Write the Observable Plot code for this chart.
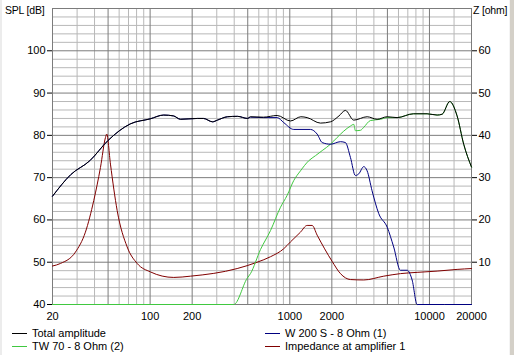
<!DOCTYPE html>
<html><head><meta charset="utf-8">
<script src="https://cdn.jsdelivr.net/npm/d3@7"></script>
<script src="https://cdn.jsdelivr.net/npm/@observablehq/plot@0.6"></script>
<style>
html,body{margin:0;padding:0;background:#fff;}
#wrap{position:relative;width:514px;height:355px;overflow:hidden;background:#fff;font-family:"Liberation Sans",Arial,sans-serif;font-size:11px;color:#000;}
#edgeL{position:absolute;left:0;top:0;width:2px;height:355px;background:#ececec;}
#edgeR{position:absolute;right:0;top:0;width:4px;height:355px;background:#d4d0c8;border-left:1px solid #f4f4f4;}
#chart{position:absolute;left:0;top:0;}
.lab{position:absolute;top:4px;white-space:nowrap;font-size:10.5px;letter-spacing:-0.2px;}
.leg{position:absolute;white-space:nowrap;line-height:13px;}
.sw{display:inline-block;width:15px;height:0;border-top:1px solid;vertical-align:middle;margin-right:5px;position:relative;top:-1px;}
</style></head>
<body><div id="wrap"><div id="chart"></div>
<div class="lab" style="left:5px;">SPL [dB]</div>
<div class="lab" style="left:473px;">Z [ohm]</div>
<div id="legend"></div>
<div id="edgeL"></div><div id="edgeR"></div></div>
<script>
// ---- data ----
const freqTicks = [20, 50, 100, 200, 500, 1000, 2000, 5000, 10000, 20000];
const freqMinor = [30, 40, 60, 70, 80, 90, 300, 400, 600, 700, 800, 900, 3000, 4000, 6000, 7000, 8000, 9000, 15000];
const splTicks = [40, 50, 60, 70, 80, 90, 100];
const ohmTicks = [10, 20, 30, 40, 50, 60];

const seriesNames = ["Total amplitude", "W 200 S - 8 Ohm (1)", "TW 70 - 8 Ohm (2)", "Impedance at amplifier 1"];
const seriesColors = ["#000000", "#000080", "#40c840", "#800000"];

const totalFreq = [20, 27, 37, 50, 72, 100, 125, 147, 165, 218, 241, 280, 303, 358, 422, 498, 523, 647, 812, 1011, 1200, 1331, 1657, 1955, 2250, 2501, 2870, 3580, 4220, 4978, 5866, 7674, 9620, 11350, 12330, 13970, 15770, 17590, 20000];
const totalSpl  = [65.6, 70.7, 74, 78.8, 82.7, 83.9, 84.8, 84.6, 83.8, 84, 84, 83.2, 83.6, 84.4, 84.5, 84, 84.4, 84.3, 84.7, 83.4, 84.4, 84.2, 82.9, 83.2, 84.6, 85.9, 83.6, 84.4, 83.8, 84.4, 84.2, 85.1, 85.1, 84.8, 85, 88, 84.6, 77.9, 72.5];

const wooferFreq = [20, 27, 37, 50, 72, 100, 125, 147, 165, 218, 241, 280, 303, 358, 422, 498, 523, 650, 812, 906, 1067, 1406, 1570, 1706, 1955, 2306, 2501, 2717, 2950, 3118, 3384, 3580, 3882, 4334, 4978, 5546, 6195, 6918, 7515, 8163, 20000];
const wooferSpl  = [65.6, 70.7, 74, 78.8, 82.7, 83.9, 84.8, 84.6, 83.8, 84, 84, 83.2, 83.6, 84.4, 84.5, 84, 84.3, 84.2, 84.2, 83, 81.4, 81.4, 80.3, 78.3, 77.9, 78.5, 78.3, 74.8, 70.5, 70.9, 72.6, 71.6, 66.9, 61.5, 58.3, 53.6, 48.1, 48.1, 45.8, 40, 40];

const tweeterFreq = [20, 397, 495, 523, 617, 728, 858, 957, 1067, 1192, 1367, 1528, 1706, 1955, 2183, 2434, 2717, 2870, 2950, 3208, 3384, 3778, 4456, 4978, 5866, 7674, 9620, 11350, 12330, 13970, 15770, 17590, 20000];
const tweeterSpl  = [40, 40, 46.2, 47.3, 53, 57.5, 63, 65.8, 69.3, 71.6, 74, 75.2, 76.4, 77.9, 79.5, 81, 82.2, 82.6, 81.1, 81.2, 81.9, 83.5, 83.8, 84.2, 84.2, 85.1, 85.1, 84.8, 85, 88, 84.6, 77.9, 72.5];

const impFreq = [20, 22.8, 29.2, 34.4, 39.5, 44.1, 47.9, 48.9, 52, 58.1, 68.5, 80.8, 100.6, 147.7, 194.5, 420, 584, 728, 906, 1011, 1192, 1331, 1445, 1570, 2010, 2306, 2717, 3384, 4710, 6195, 8163, 11350, 15770, 20000];
const impOhm  = [9.1, 9.7, 12.4, 17.1, 24.6, 32.4, 39.5, 40.3, 33.2, 22.2, 13.6, 9.7, 7.7, 6.4, 6.7, 8.5, 10, 11.3, 13.2, 14.8, 17.1, 18.7, 18.7, 16.4, 10.2, 7.3, 5.9, 5.8, 6.7, 7.3, 7.6, 7.9, 8.3, 8.5];

// ---- build tables ----
const zip = (f, v) => f.map((x, i) => ({f: x, v: v[i]}));
const total = zip(totalFreq, totalSpl);
const woofer = zip(wooferFreq, wooferSpl);
const tweeter = zip(tweeterFreq, tweeterSpl);
const imp = zip(impFreq, impOhm);
const ohmOffset = 40; // 0 ohm sits on the 40 dB line
const splMinor = d3.range(42, 110, 2).filter(v => v % 10 !== 0);
const splMajor = d3.range(50, 111, 10);

const chart = Plot.plot({
  width: 514, height: 325,
  marginLeft: 52, marginRight: 43, marginTop: 8, marginBottom: 21,
  style: {fontFamily: "'Liberation Sans', Arial, sans-serif", fontSize: "11px", color: "#000", background: "transparent"},
  x: {type: "log", domain: [20, 20000]},
  y: {domain: [40, 110]},
  marks: [
    Plot.ruleY(splMinor, {stroke: "#b8b8b8", strokeWidth: 1}),
    Plot.ruleX(freqMinor, {stroke: "#b8b8b8", strokeWidth: 1}),
    Plot.ruleY(splMajor, {stroke: "#7c7c7c", strokeWidth: 1}),
    Plot.ruleX(freqTicks, {stroke: "#7c7c7c", strokeWidth: 1}),
    Plot.frame({stroke: "#7c7c7c"}),
    Plot.line(imp, {x: "f", y: d => d.v + ohmOffset, stroke: seriesColors[3], strokeWidth: 1, curve: "monotone-x"}),
    Plot.line(tweeter, {x: "f", y: "v", stroke: seriesColors[2], strokeWidth: 1, curve: "monotone-x"}),
    Plot.line(woofer, {x: "f", y: "v", stroke: seriesColors[1], strokeWidth: 1, curve: "monotone-x"}),
    Plot.line(total, {x: "f", y: "v", stroke: seriesColors[0], strokeWidth: 1, curve: "monotone-x"}),
    Plot.axisX({ticks: freqTicks, tickFormat: d => String(d), tickSize: 0, tickPadding: 8, label: null}),
    Plot.axisY({anchor: "left", ticks: splTicks, tickSize: 5, tickPadding: 2, label: null, stroke: "#000"}),
    Plot.axisY({anchor: "right", ticks: ohmTicks.map(v => v + ohmOffset), tickFormat: d => String(d - ohmOffset), tickSize: 5, tickPadding: 2, label: null, stroke: "#000"})
  ]
});
document.getElementById("chart").appendChild(chart);

// ---- legend ----
const legPos = [[12, 327], [265, 327], [12, 340], [265, 340]];
const legend = document.getElementById("legend");
seriesNames.forEach((n, i) => {
  const el = document.createElement("div");
  el.className = "leg";
  el.style.left = legPos[i][0] + "px";
  el.style.top = legPos[i][1] + "px";
  el.innerHTML = `<span class="sw" style="border-color:${seriesColors[i]}"></span>${n}`;
  legend.appendChild(el);
});
</script></body></html>
